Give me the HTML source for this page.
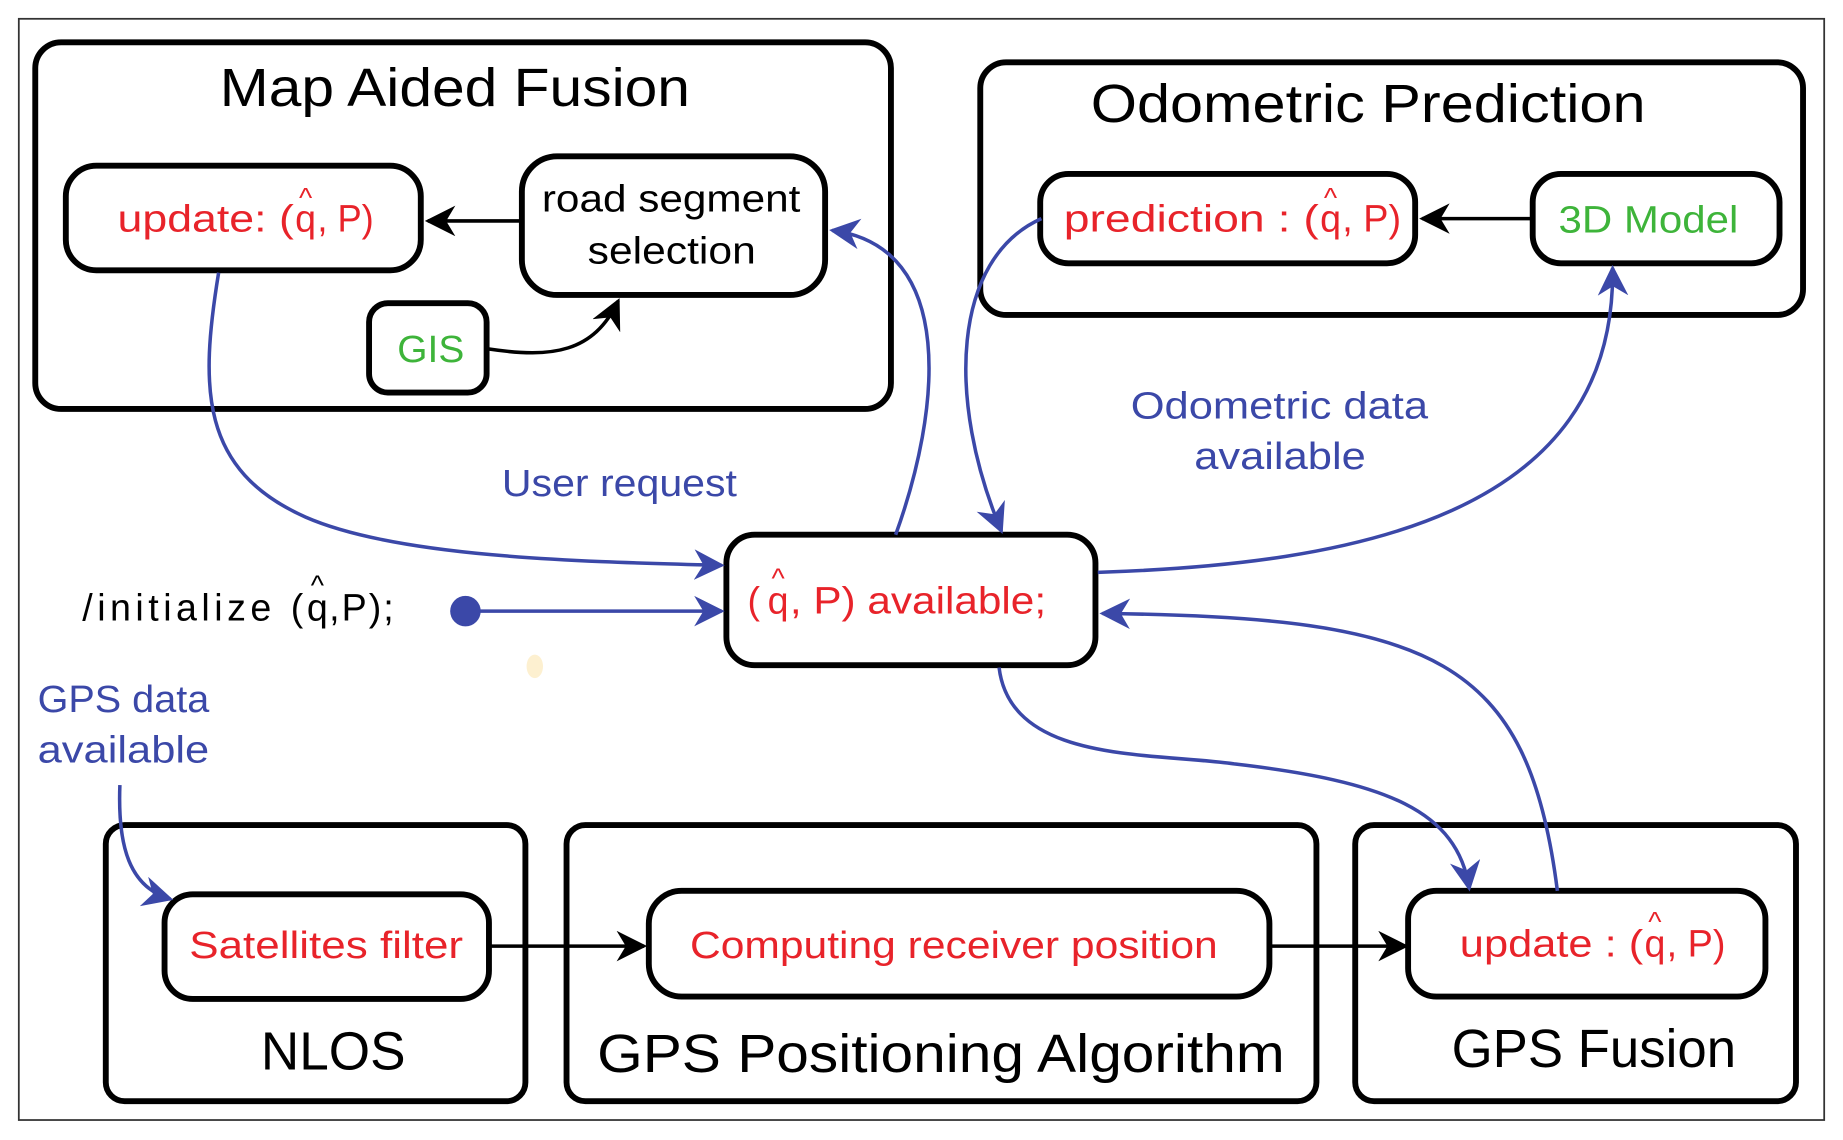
<!DOCTYPE html>
<html><head><meta charset="utf-8"><style>
html,body{margin:0;padding:0;background:#fff;}
svg{display:block;}
text{font-family:"Liberation Sans",sans-serif;}
</style></head><body>
<svg width="1843" height="1140" viewBox="0 0 1568 970" preserveAspectRatio="none" xmlns="http://www.w3.org/2000/svg">
<defs>
<marker id="ab" viewBox="0 0 20 20" refX="18" refY="10" markerWidth="26" markerHeight="26" markerUnits="userSpaceOnUse" orient="auto">
<path d="M0,0 L20,10 L0,20 L6,10 Z" fill="#3b48a8"/></marker>
<marker id="ak" viewBox="0 0 20 20" refX="18" refY="10" markerWidth="26" markerHeight="26" markerUnits="userSpaceOnUse" orient="auto">
<path d="M0,0 L20,10 L0,20 L6,10 Z" fill="#000"/></marker>
</defs>
<rect x="16" y="16" width="1536" height="937" fill="none" stroke="#333" stroke-width="1.5"/>

<g fill="none" stroke="#000" stroke-width="5">
<rect x="30" y="36" width="728" height="312" rx="22"/>
<rect x="834" y="53" width="700" height="215" rx="22"/>
<rect x="90" y="702" width="357" height="235" rx="16"/>
<rect x="482" y="702" width="638" height="235" rx="16"/>
<rect x="1153" y="702" width="375" height="235" rx="16"/>
<rect x="56" y="141" width="302" height="89" rx="26"/>
<rect x="444" y="133" width="258" height="118" rx="30"/>
<rect x="314" y="258" width="100" height="76" rx="16"/>
<rect x="885" y="148" width="319" height="76" rx="24"/>
<rect x="1304" y="148" width="210" height="76" rx="24"/>
<rect x="618" y="455" width="314" height="111" rx="24"/>
<rect x="140" y="761" width="276" height="89" rx="24"/>
<rect x="552" y="758" width="528" height="90" rx="28"/>
<rect x="1198" y="758" width="304" height="90" rx="24"/>
</g>

<g fill="none" stroke="#000" stroke-width="3">
<path d="M444,188 L364,188" marker-end="url(#ak)"/>
<path d="M1304,186 L1210,186" marker-end="url(#ak)"/>
<path d="M416,297 C470,305 505,300 526,256" marker-end="url(#ak)"/>
<path d="M416,805 L548,805" marker-end="url(#ak)"/>
<path d="M1080,805 L1196,805" marker-end="url(#ak)"/>
</g>

<g fill="none" stroke="#3b48a8" stroke-width="3">
<path d="M186,232 C170,330 170,400 260,440 C340,475 500,478 614,481" marker-end="url(#ab)"/>
<path d="M762,455 C800,350 815,210 708,196" marker-end="url(#ab)"/>
<path d="M886,186 C810,220 805,340 852,452" marker-end="url(#ab)"/>
<path d="M934,487 C1150,480 1375,440 1372,228" marker-end="url(#ab)"/>
<path d="M850,568 C860,650 980,640 1050,650 C1180,665 1240,690 1250,756" marker-end="url(#ab)"/>
<path d="M1325,758 C1300,560 1220,525 938,522" marker-end="url(#ab)"/>
<path d="M102,668 C100,720 110,755 145,765" marker-end="url(#ab)"/>
<path d="M396,520 L614,520" marker-end="url(#ab)"/>
</g>
<circle cx="396" cy="520" r="13" fill="#3b48a8"/>
<ellipse cx="455" cy="567" rx="7" ry="10" fill="#fdf0d0"/>

<g font-size="46" fill="#000">
<text x="187" y="90" textLength="400" lengthAdjust="spacingAndGlyphs">Map Aided Fusion</text>
<text x="928" y="104" textLength="472" lengthAdjust="spacingAndGlyphs">Odometric Prediction</text>
<text x="222" y="910" textLength="123" lengthAdjust="spacingAndGlyphs">NLOS</text>
<text x="508" y="912" textLength="585" lengthAdjust="spacingAndGlyphs">GPS Positioning Algorithm</text>
<text x="1235" y="908" textLength="242" lengthAdjust="spacingAndGlyphs">GPS Fusion</text>
</g>
<g font-size="32" fill="#000">
<text x="461" y="180" textLength="220" lengthAdjust="spacingAndGlyphs">road segment</text>
<text x="500" y="224" textLength="143" lengthAdjust="spacingAndGlyphs">selection</text>
</g>
<g font-size="32" fill="#e8232a">
<text x="100" y="197" textLength="150" lengthAdjust="spacingAndGlyphs">update: (</text>
<text x="260" y="197" text-anchor="middle">q</text>
<text x="270" y="197" textLength="48" lengthAdjust="spacingAndGlyphs">, P)</text>
<text x="260" y="176" font-size="24" text-anchor="middle">^</text>

<text x="905" y="197" textLength="217" lengthAdjust="spacingAndGlyphs">prediction : (</text>
<text x="1132" y="197" text-anchor="middle">q</text>
<text x="1142" y="197" textLength="50" lengthAdjust="spacingAndGlyphs">, P)</text>
<text x="1132" y="176" font-size="24" text-anchor="middle">^</text>

<text x="636" y="522">(</text>
<text x="662" y="522" text-anchor="middle">q</text>
<text x="672" y="522" textLength="218" lengthAdjust="spacingAndGlyphs">, P)  available;</text>
<text x="662" y="500" font-size="24" text-anchor="middle">^</text>

<text x="161" y="815" textLength="233" lengthAdjust="spacingAndGlyphs">Satellites filter</text>
<text x="587" y="815" textLength="449" lengthAdjust="spacingAndGlyphs">Computing receiver position</text>

<text x="1242" y="814" textLength="156" lengthAdjust="spacingAndGlyphs">update : (</text>
<text x="1408" y="814" text-anchor="middle">q</text>
<text x="1418" y="814" textLength="50" lengthAdjust="spacingAndGlyphs">, P)</text>
<text x="1408" y="792" font-size="24" text-anchor="middle">^</text>
</g>
<g font-size="32" fill="#3eb43a">
<text x="338" y="308" textLength="57" lengthAdjust="spacingAndGlyphs">GIS</text>
<text x="1326" y="198" textLength="153" lengthAdjust="spacingAndGlyphs">3D Model</text>
</g>
<g font-size="32" fill="#000">
<text x="70" y="528" textLength="188" lengthAdjust="spacing">/initialize (</text>
<text x="270" y="528" text-anchor="middle">q</text>
<text x="280" y="528" textLength="55" lengthAdjust="spacing">,P);</text>
<text x="270" y="506" font-size="24" text-anchor="middle">^</text>
</g>
<g font-size="32" fill="#3b48a8">
<text x="427" y="422" textLength="200" lengthAdjust="spacingAndGlyphs">User request</text>
<text x="962" y="356" textLength="253" lengthAdjust="spacingAndGlyphs">Odometric data</text>
<text x="1016" y="399" textLength="146" lengthAdjust="spacingAndGlyphs">available</text>
<text x="32" y="606" textLength="146" lengthAdjust="spacingAndGlyphs">GPS data</text>
<text x="32" y="649" textLength="146" lengthAdjust="spacingAndGlyphs">available</text>
</g>
</svg>
</body></html>
